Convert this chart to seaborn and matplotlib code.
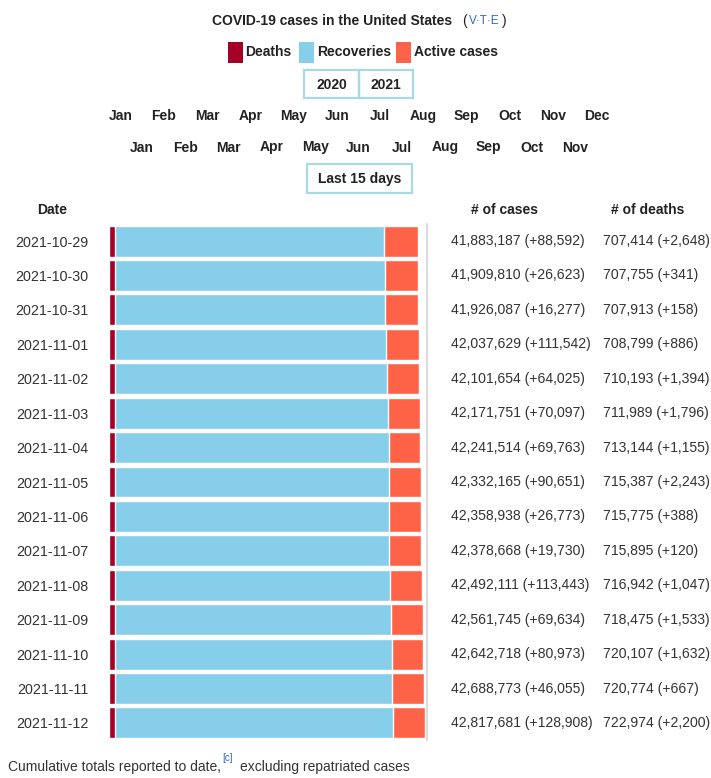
import numpy as np
import pandas as pd
import seaborn as sns
import matplotlib
matplotlib.use("Agg")
import matplotlib.pyplot as plt
from matplotlib.patches import Rectangle
from matplotlib.transforms import blended_transform_factory

dates = ["2021-10-29", "2021-10-30", "2021-10-31", "2021-11-01", "2021-11-02",
         "2021-11-03", "2021-11-04", "2021-11-05", "2021-11-06", "2021-11-07",
         "2021-11-08", "2021-11-09", "2021-11-10", "2021-11-11", "2021-11-12"]
cases = [41883187, 41909810, 41926087, 42037629, 42101654, 42171751, 42241514,
         42332165, 42358938, 42378668, 42492111, 42561745, 42642718, 42688773, 42817681]
case_change = [88592, 26623, 16277, 111542, 64025, 70097, 69763, 90651, 26773,
               19730, 113443, 69634, 80973, 46055, 128908]
deaths = [707414, 707755, 707913, 708799, 710193, 711989, 713144, 715387, 715775,
          715895, 716942, 718475, 720107, 720774, 722974]
death_change = [2648, 341, 158, 886, 1394, 1796, 1155, 2243, 388, 120, 1047,
                1533, 1632, 667, 2200]
# recoveries (millions)
recoveries_m = [36.59, 36.73, 36.73, 36.82, 36.96, 37.09, 37.22, 37.22, 37.30,
                37.30, 37.44, 37.53, 37.66, 37.66, 37.84]
months_2020 = ["Jan", "Feb", "Mar", "Apr", "May", "Jun", "Jul", "Aug", "Sep", "Oct", "Nov", "Dec"]
months_2021 = ["Jan", "Feb", "Mar", "Apr", "May", "Jun", "Jul", "Aug", "Sep", "Oct", "Nov"]

C_DEATH, C_REC, C_ACT = "#a50026", "#87ceeb", "#ff6347"
BOX = "#a9d8e6"
TXT = "#222222"

sns.set_theme(style="white")
plt.rcParams["font.family"] = ["Liberation Sans", "DejaVu Sans"]

W, H = 711, 778
def P(x, y):
    return x / W, 1 - y / H

df = pd.DataFrame({"date": dates, "cases": cases, "deaths": deaths,
                   "recoveries": np.array(recoveries_m) * 1e6})
df["closed"] = df["deaths"] + df["recoveries"]

fig = plt.figure(figsize=(7.11, 7.78), dpi=100)
x0, x1 = 109.3, 427
top, bot = 223.8, 740.2
ax = fig.add_axes([x0 / W, 1 - bot / H, (x1 - x0) / W, (bot - top) / H])

# stacked: total cases (active) under deaths+recoveries under deaths
sns.barplot(data=df, x="cases", y="date", orient="h", color=C_ACT, saturation=1, width=0.9, ax=ax)
sns.barplot(data=df, x="closed", y="date", orient="h", color=C_REC, saturation=1, width=0.9, ax=ax)
sns.barplot(data=df, x="deaths", y="date", orient="h", color=C_DEATH, saturation=1, width=0.9, ax=ax)

ax.set_xlim(0, (x1 - x0) / 7.365 * 1e6)
ax.set_xlabel("")
ax.set_ylabel("")
ax.set_xticks([])
for s in ["top", "left", "bottom"]:
    ax.spines[s].set_visible(False)
ax.spines["right"].set_color("#dcdcdc")
ax.spines["right"].set_linewidth(1.5)
ax.tick_params(axis="y", length=0, pad=15, labelsize=10.3, labelcolor="#333333")

ROW, BLD = 10.1, 10
tr = blended_transform_factory(fig.transFigure, ax.transData)
for i in range(len(dates)):
    ax.text(451 / W, i, f"{cases[i]:,} (+{case_change[i]:,})", transform=tr,
            ha="left", va="center", fontsize=ROW, color="#333333")
    ax.text(603.3 / W, i, f"{deaths[i]:,} (+{death_change[i]:,})", transform=tr,
            ha="left", va="center", fontsize=ROW, color="#333333")

# headers
fig.text(*P(52.5, 210), "Date", ha="center", va="center", fontsize=BLD, weight="bold", color=TXT)
fig.text(*P(504.7, 210), "# of cases", ha="center", va="center", fontsize=BLD, weight="bold", color=TXT)
fig.text(*P(648, 210), "# of deaths", ha="center", va="center", fontsize=BLD, weight="bold", color=TXT)

# title
fig.text(*P(332, 21), "COVID-19 cases in the United States", ha="center", va="center",
         fontsize=BLD, weight="bold", color=TXT)
fig.text(*P(462, 21), "(", ha="left", va="center", fontsize=BLD, color=TXT)
fig.text(*P(484, 21), "V·T·E", ha="center", va="center", fontsize=8.5, color="#3366cc")
fig.text(*P(507, 21), ")", ha="right", va="center", fontsize=BLD, color=TXT)

# legend
for sx, col, lx, lab in [(228, C_DEATH, 245, "Deaths"), (299, C_REC, 317, "Recoveries"),
                         (396, C_ACT, 414, "Active cases")]:
    fig.add_artist(Rectangle(P(sx, 63.3), 15 / W, 21.6 / H, transform=fig.transFigure,
                             facecolor=col, edgecolor="none"))
    fig.text(*P(lx, 52.5), lab, ha="left", va="center", fontsize=BLD, weight="bold", color=TXT)

# year / range boxes
for bx0, bx1, by0, by1, lab in [(304, 359.3, 70, 98, "2020"), (359.3, 412.7, 70, 98, "2021"),
                                (306.7, 411.7, 164, 193, "Last 15 days")]:
    fig.add_artist(Rectangle(P(bx0, by1), (bx1 - bx0) / W, (by1 - by0) / H,
                             transform=fig.transFigure, fill=False, edgecolor=BOX, lw=1.6))
    fig.text(*P((bx0 + bx1) / 2, (by0 + by1) / 2 + 1), lab, ha="center", va="center",
             fontsize=BLD, weight="bold", color=TXT)

# month rows
for row, yy in [(months_2020, 116), (months_2021, 147.5)]:
    n = len(row)
    for i, m in enumerate(row):
        fig.text(*P(358.5 + (i - (n - 1) / 2) * 43.3, yy), m, ha="center", va="center",
                 fontsize=BLD, weight="bold", color=TXT)

# footer
fig.text(*P(8.3, 767), "Cumulative totals reported to date,", ha="left", va="center",
         fontsize=10, color="#333333")
fig.text(*P(222.7, 758), "[c]", ha="left", va="center", fontsize=7, color="#3366cc")
fig.text(*P(239.5, 767), "excluding repatriated cases", ha="left", va="center",
         fontsize=10, color="#333333")

fig.savefig("out.png", dpi=100)
